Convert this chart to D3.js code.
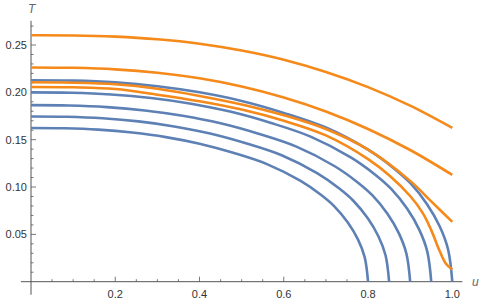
<!DOCTYPE html>
<html>
<head>
  <meta charset="utf-8">
  <title>T vs u</title>
  <style>
    body { margin: 0; background: #fff; }
    svg text { font-family: "Liberation Sans", Arial, sans-serif; }
  </style>
</head>
<body>
  <div class="area"></div>

  <script src="https://cdn.jsdelivr.net/npm/d3@7"></script>
  <script type="text/javascript">

  var w = 480, h = 302;

  // tick values
  var uMajor = [0.2, 0.4, 0.6, 0.8, 1.0];
  var tMajor = [0.05, 0.10, 0.15, 0.20, 0.25];

  // blue curves as [u, T]
  var blue080 = [[0,.1624],[.08,.1621],[.16,.1606],[.24,.1575],[.32,.1527],[.40,.1457],[.48,.1361],[.56,.1242],[.64,.1064],[.688,.0918],[.72,.0796],[.752,.0625],[.776,.0447],[.792,.0260],[.8,0]];
  var blue085 = [[0,.1745],[.085,.1742],[.17,.1726],[.255,.1693],[.34,.1640],[.425,.1565],[.51,.1462],[.595,.1335],[.68,.1143],[.731,.0986],[.765,.0855],[.799,.0672],[.8245,.0480],[.8415,.0279],[.85,0]];
  var blue090 = [[0,.1865],[.09,.1861],[.18,.1844],[.27,.1809],[.36,.1753],[.45,.1673],[.54,.1563],[.63,.1427],[.72,.1222],[.774,.1054],[.81,.0914],[.846,.0718],[.873,.0513],[.891,.0298],[.9,0]];
  var blue095 = [[0,.2000],[.095,.1996],[.19,.1978],[.285,.1940],[.38,.1880],[.475,.1794],[.57,.1676],[.665,.1530],[.76,.1310],[.817,.1130],[.855,.0980],[.893,.0770],[.9215,.0550],[.9405,.0320],[.95,0]];
  var blue100 = [[0,.2128],[.1,.2124],[.2,.2105],[.3,.2064],[.4,.2000],[.5,.1909],[.6,.1783],[.7,.1628],[.8,.1394],[.86,.1202],[.9,.1043],[.94,.0819],[.97,.0585],[.99,.0340],[1,0]];

  // orange curves, [u, T]
  var orangeA = [[0,.2603],[.1,.2601],[.2,.2588],[.3,.2560],[.4,.2513],[.5,.2441],[.6,.2344],[.7,.2215],[.8,.2055],[.9,.1859],[1,.1624]];
  var orangeB = [[0,.2263],[.1,.2259],[.2,.2243],[.3,.2207],[.4,.2148],[.5,.2062],[.6,.1946],[.7,.1798],[.8,.1613],[.9,.1391],[1,.1128]];
  var orangeC = [[0,.2106],[.1,.2102],[.2,.2085],[.3,.2038],[.4,.1962],[.5,.1872],[.6,.1758],[.7,.1612],[.8,.1395],[.9,.1065],[.95,.0848],[1,.0632]];
  var orangeD = [[0,.2057],[.1,.2053],[.2,.2035],[.3,.1975],[.4,.1905],[.5,.1818],[.6,.1700],[.7,.1545],[.8,.1295],[.85,.1125],[.9,.0905],[.93,.0725],[.95,.0545],[.97,.0325],[.985,.0190],[1,.0128]];

  var blues = [blue080, blue085, blue090, blue095, blue100];
  var oranges = [orangeA, orangeB, orangeC, orangeD];

  var svg = d3.select('.area')
    .append('svg')
    .attr('width', w)
    .attr('height', h);

  var x = d3.scaleLinear().domain([0, 1]).range([31, 452.3]);
  var y = d3.scaleLinear().domain([0, 0.25]).range([281.7, 45]);

  var axisColor = '#555';

  // axis lines
  svg.append('line')
    .attr('x1', x(-0.024)).attr('x2', x(1.024))
    .attr('y1', y(0)).attr('y2', y(0))
    .attr('stroke', axisColor).attr('stroke-width', 1);
  svg.append('line')
    .attr('x1', x(0)).attr('x2', x(0))
    .attr('y1', y(-0.0138)).attr('y2', y(0.2755))
    .attr('stroke', axisColor).attr('stroke-width', 1);

  // x ticks (minor every 0.05)
  var uMinor = d3.range(1, 21).map(function(i){ return i * 0.05 })
    .filter(function(v){ return !uMajor.some(function(m){ return Math.abs(m - v) < 1e-6 }) });
  svg.selectAll('.xminor').data(uMinor).enter().append('line')
    .attr('x1', function(d){ return x(d) }).attr('x2', function(d){ return x(d) })
    .attr('y1', y(0)).attr('y2', y(0) - 2.5)
    .attr('stroke', axisColor).attr('stroke-width', 0.8);
  svg.selectAll('.xmajor').data(uMajor).enter().append('line')
    .attr('x1', function(d){ return x(d) }).attr('x2', function(d){ return x(d) })
    .attr('y1', y(0)).attr('y2', y(0) - 5)
    .attr('stroke', axisColor).attr('stroke-width', 0.8);
  svg.selectAll('.xlabel').data(uMajor).enter().append('text')
    .attr('x', function(d){ return x(d) })
    .attr('y', 298)
    .attr('text-anchor', 'middle')
    .attr('font-size', 11)
    .attr('fill', '#333')
    .text(function(d){ return d3.format('.1f')(d) });

  // y ticks (minor every 0.01)
  var tMinor = d3.range(1, 28).map(function(i){ return i * 0.01 })
    .filter(function(v){ return !tMajor.some(function(m){ return Math.abs(m - v) < 1e-6 }) });
  svg.selectAll('.yminor').data(tMinor).enter().append('line')
    .attr('x1', x(0)).attr('x2', x(0) + 2.5)
    .attr('y1', function(d){ return y(d) }).attr('y2', function(d){ return y(d) })
    .attr('stroke', axisColor).attr('stroke-width', 0.8);
  svg.selectAll('.ymajor').data(tMajor).enter().append('line')
    .attr('x1', x(0)).attr('x2', x(0) + 5)
    .attr('y1', function(d){ return y(d) }).attr('y2', function(d){ return y(d) })
    .attr('stroke', axisColor).attr('stroke-width', 0.8);
  svg.selectAll('.ylabel').data(tMajor).enter().append('text')
    .attr('x', 27)
    .attr('y', function(d){ return y(d) + 4 })
    .attr('text-anchor', 'end')
    .attr('font-size', 11)
    .attr('fill', '#333')
    .text(function(d){ return d3.format('.2f')(d) });

  // axis names
  svg.append('text').attr('x', 28).attr('y', 13)
    .attr('font-size', 12).attr('font-style', 'italic').attr('fill', '#666')
    .text('T');
  svg.append('text').attr('x', 472).attr('y', 286)
    .attr('font-size', 12).attr('font-style', 'italic').attr('fill', '#666')
    .text('u');

  var line = d3.line()
    .x(function(d){ return x(d[0]) })
    .y(function(d){ return y(d[1]) })
    .curve(d3.curveCatmullRom.alpha(0.5));

  svg.selectAll('.blue').data(blues).enter().append('path')
    .attr('d', line)
    .attr('fill', 'none')
    .attr('stroke', '#5e81b5')
    .attr('stroke-width', 2.6);

  svg.selectAll('.orange').data(oranges).enter().append('path')
    .attr('d', line)
    .attr('fill', 'none')
    .attr('stroke', '#f5891a')
    .attr('stroke-width', 2.6);

  </script>
</body>
</html>
